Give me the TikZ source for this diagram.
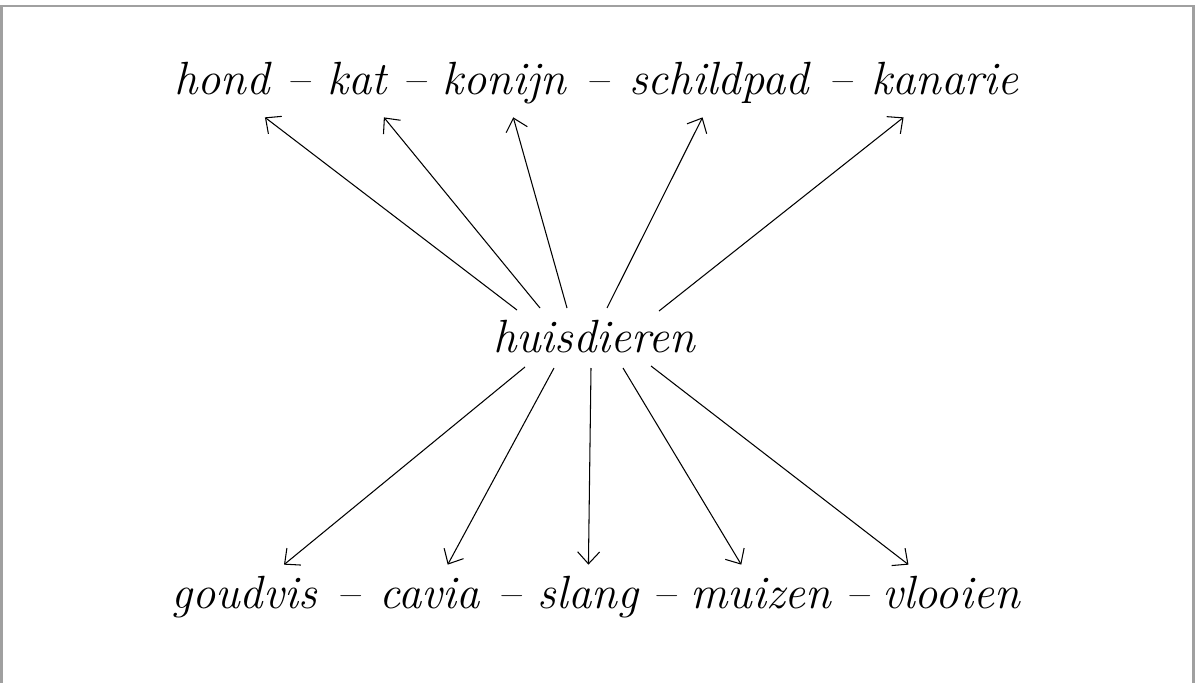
\documentclass[tikz,border=0pt]{standalone}
\usepackage{fontspec}
\usepackage{tikz}
\usetikzlibrary{arrows.meta, positioning, calc}
\definecolor{kadergrijs}{HTML}{A0A0A0}
\tikzset{
  woord/.style={font=\fontsize{26.5}{30}\selectfont\itshape, anchor=base, inner sep=0.2cm,
                text height=0.66cm, text depth=0.24cm},
  streep/.style={font=\fontsize{26.5}{30}\selectfont\itshape, anchor=base, inner sep=0pt},
  pijl/.style={-{Straight Barb[length=2.4mm, width=4.4mm]}, line width=0.6pt},
  kader/.style={draw=kadergrijs, line width=1.2pt},
}

\begin{document}
\begin{tikzpicture}
  \useasboundingbox (0,0) rectangle (23.9,13.64);
  \draw[kader] (0.03,-0.3) -- (0.03,13.52) -- (23.87,13.52) -- (23.87,-0.3);
  \node[woord] (hub) at (11.88,6.6) {huisdieren};
  % bovenste rij
  \foreach \w/\x [count=\i] in {hond/4.44, kat/7.14, konijn/10.08, schildpad/14.38, kanarie/18.9} {
    \node[woord] (boven\i) at (\x,11.74) {\w};
  }
  \foreach \i/\j in {1/2,2/3,3/4,4/5}
    \node[streep] (bstreep\i) at ($(boven\i.base east)!0.5!(boven\j.base west)$) {\textendash};
  % onderste rij
  \foreach \w/\x [count=\i] in {goudvis/4.88, cavia/8.6, slang/11.76, muizen/15.22, vlooien/19.02} {
    \node[woord] (onder\i) at (\x,1.48) {\w};
  }
  \foreach \i/\j in {1/2,2/3,3/4,4/5}
    \node[streep] (ostreep\i) at ($(onder\i.base east)!0.5!(onder\j.base west)$) {\textendash};
  % pijlen
  \foreach \x/\y [count=\i] in {10.34/7.44, 10.8/7.48, 11.34/7.48, 12.14/7.48, 13.18/7.42} {
    \coordinate (t\i) at (\x,\y);
    \draw[pijl] (t\i) -- (boven\i);
  }
  \foreach \x/\y [count=\i] in {10.5/6.3, 11.08/6.28, 11.82/6.28, 12.46/6.28, 13.02/6.32} {
    \coordinate (b\i) at (\x,\y);
    \draw[pijl] (b\i) -- (onder\i);
  }
\end{tikzpicture}
\end{document}
